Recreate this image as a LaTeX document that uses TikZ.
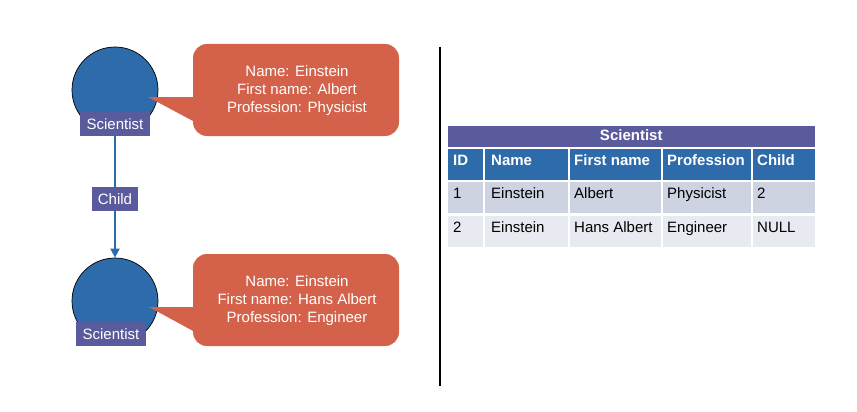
\documentclass[tikz,border=0pt]{standalone}
\usepackage{fontspec}
\setmainfont{Liberation Sans}
\usetikzlibrary{arrows.meta}
\definecolor{nodeblue}{HTML}{2E6BAA}
\definecolor{labpurple}{HTML}{5A5B9C}
\definecolor{callred}{HTML}{D4624A}
\definecolor{rowone}{HTML}{CDD3E1}
\definecolor{rowtwo}{HTML}{E7EAF1}
\tikzset{
  ent/.style={circle, draw=black, line width=0.7pt, fill=nodeblue, minimum size=86pt, inner sep=0pt},
  lab/.style={fill=labpurple, text=white, minimum height=24pt, inner sep=0pt, font=\fontsize{15}{17}\selectfont},
  conn/.style={draw=nodeblue, line width=1.8pt, -{Triangle[length=9pt,width=9pt]}},
  callout/.style={fill=callred, rounded corners=14pt},
  pointer/.style={fill=callred},
  calltext/.style={text=white, align=center, font=\fontsize{15}{18}\selectfont},
  cell/.style={draw=white, line width=1.5pt, anchor=north west, inner sep=0pt, minimum height=33pt},
  ttxt/.style={anchor=base west, inner sep=0pt, font=\fontsize{15}{17}\selectfont},
  htxt/.style={ttxt, text=white, font=\fontsize{15}{17}\selectfont\bfseries},
}
\begin{document}
\begin{tikzpicture}[x=1pt,y=-1pt]
\useasboundingbox (0,0) rectangle (857,412);
% entities
\node[ent] (e1) at (115,90) {};
\node[ent] (e2) at (115,301) {};
\node[lab, minimum width=70pt] (l1) at (115,124) {Scientist};
\node[lab, minimum width=70pt] (l2) at (111,334) {Scientist};
\draw[conn] (l1.south) -- (e2.north);
\node[lab, minimum width=46pt] (lc) at (115,199) {Child};
% callouts
\fill[callout] (193,44) rectangle (399,136);
\fill[pointer] (148,97) -- (197,97) -- (197,123.1) -- cycle;
\node[calltext] (ct1) at (297,91) {Name: Einstein\\First name: Albert\\Profession: Physicist};
\fill[callout] (193,254) rectangle (399,346);
\fill[pointer] (149,307) -- (197,307) -- (197,333.1) -- cycle;
\node[calltext] (ct2) at (297,301) {Name: Einstein\\First name: Hans Albert\\Profession: Engineer};
% divider
\coordinate (d1) at (440,47);
\coordinate (d2) at (440,386);
\draw[line width=2.5pt] (d1) -- (d2);
% table
\node[cell, fill=labpurple, minimum width=369pt, minimum height=23pt] (title) at (446,124) {};
\node[text=white, font=\fontsize{15}{17}\selectfont\bfseries, inner sep=0pt] (tt) at ([yshift=1pt]title.center) {Scientist};
% header
\node[cell, fill=nodeblue, minimum width=37pt] (h1) at (446,147) {};
\node[cell, fill=nodeblue, minimum width=85pt] (h2) at (483,147) {};
\node[cell, fill=nodeblue, minimum width=93pt] (h3) at (568,147) {};
\node[cell, fill=nodeblue, minimum width=90pt] (h4) at (661,147) {};
\node[cell, fill=nodeblue, minimum width=64pt] (h5) at (751,147) {};
% row 1
\node[cell, fill=rowone, minimum width=37pt] (a1) at (446,180) {};
\node[cell, fill=rowone, minimum width=85pt] (a2) at (483,180) {};
\node[cell, fill=rowone, minimum width=93pt] (a3) at (568,180) {};
\node[cell, fill=rowone, minimum width=90pt] (a4) at (661,180) {};
\node[cell, fill=rowone, minimum width=64pt] (a5) at (751,180) {};
% row 2
\node[cell, fill=rowtwo, minimum width=37pt] (b1) at (446,214) {};
\node[cell, fill=rowtwo, minimum width=85pt] (b2) at (483,214) {};
\node[cell, fill=rowtwo, minimum width=93pt] (b3) at (568,214) {};
\node[cell, fill=rowtwo, minimum width=90pt] (b4) at (661,214) {};
\node[cell, fill=rowtwo, minimum width=64pt] (b5) at (751,214) {};
% header text
\node[htxt] (th1) at ([xshift=7pt,yshift=-18pt]h1.north west) {ID};
\node[htxt] (th2) at ([xshift=8pt,yshift=-18pt]h2.north west) {Name};
\node[htxt] (th3) at ([xshift=6pt,yshift=-18pt]h3.north west) {First name};
\node[htxt] (th4) at ([xshift=6pt,yshift=-18pt]h4.north west) {Profession};
\node[htxt] (th5) at ([xshift=6pt,yshift=-18pt]h5.north west) {Child};
% row 1 text
\node[ttxt] (ta1) at ([xshift=7pt,yshift=-18pt]a1.north west) {1};
\node[ttxt] (ta2) at ([xshift=8pt,yshift=-18pt]a2.north west) {Einstein};
\node[ttxt] (ta3) at ([xshift=6pt,yshift=-18pt]a3.north west) {Albert};
\node[ttxt] (ta4) at ([xshift=6pt,yshift=-18pt]a4.north west) {Physicist};
\node[ttxt] (ta5) at ([xshift=6pt,yshift=-18pt]a5.north west) {2};
% row 2 text
\node[ttxt] (tb1) at ([xshift=7pt,yshift=-18pt]b1.north west) {2};
\node[ttxt] (tb2) at ([xshift=8pt,yshift=-18pt]b2.north west) {Einstein};
\node[ttxt] (tb3) at ([xshift=6pt,yshift=-18pt]b3.north west) {Hans Albert};
\node[ttxt] (tb4) at ([xshift=6pt,yshift=-18pt]b4.north west) {Engineer};
\node[ttxt] (tb5) at ([xshift=6pt,yshift=-18pt]b5.north west) {NULL};
\end{tikzpicture}
\end{document}
